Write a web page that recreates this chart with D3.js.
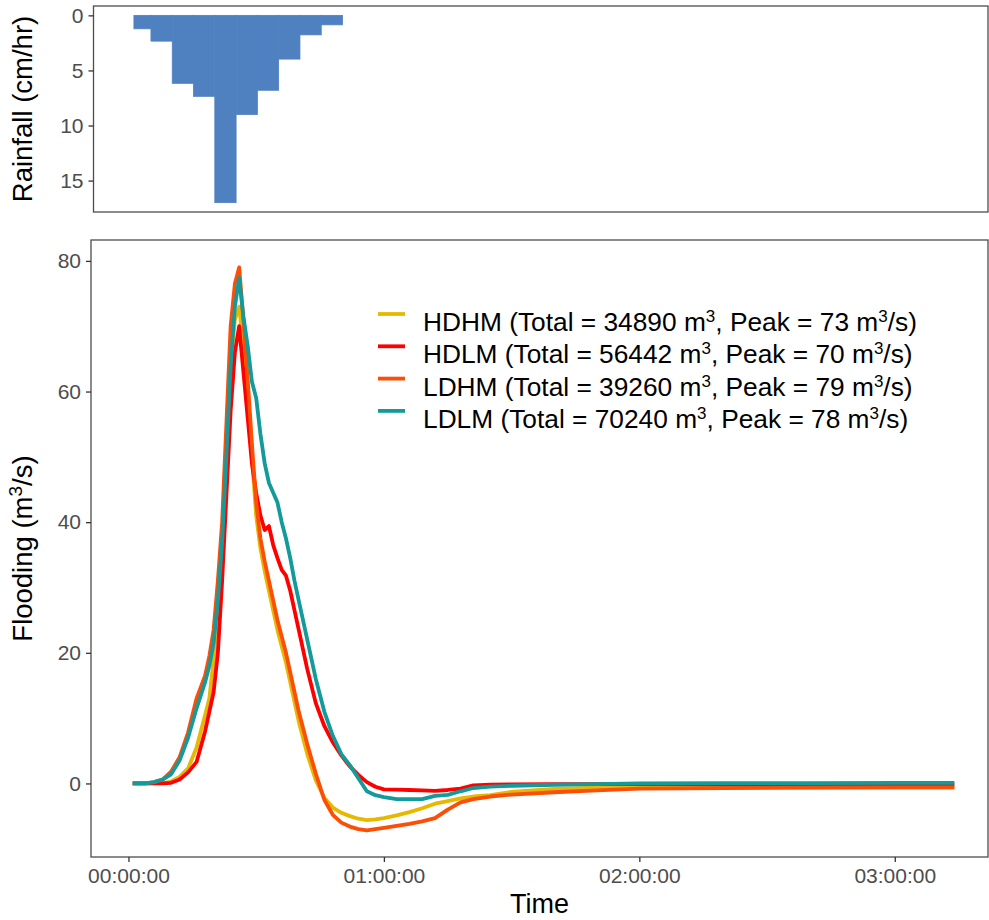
<!DOCTYPE html>
<html>
<head>
<meta charset="utf-8">
<script src="https://cdn.jsdelivr.net/npm/d3@7"></script>
<style>
  body { margin: 0; background: #fff; }
  svg { display: block; font-family: Arial, "Liberation Sans", sans-serif; }
</style>
</head>
<body>
<div id="chart"></div>
<script>
// Rainfall hyetograph (5 minute blocks, minutes from start)
const rainStart = [1, 5, 10, 15, 20, 25, 30, 35, 40, 45];
const rainEnd   = [5, 10, 15, 20, 25, 30, 35, 40, 45, 50];
const rainValue = [1.22, 2.34, 6.17, 7.35, 17.0, 9.0, 6.8, 3.97, 1.77, 0.86];

// Flooding hydrographs, minutes from start
const minutes = [1,4,6,8,10,12,14,16,18,19,20,21,22,23,24,25,26,27,28,29,30,31,32,33,34,35,36,37,38,39,40,
                 42,44,46,48,50,52,54,56,58,60,63,66,69,72,75,78,81,85,90,100,110,120,140,160,180,194];
const hdhm = [0,0,0,0.05,0.3,1.0,2.3,5.5,10.5,13,19,27,37,51,64,71,73,67,60,50,41,36,32.5,29.5,26.5,23.5,21,18.5,15.5,12.5,9.5,
              4.5,0.5,-2.2,-3.7,-4.5,-5.0,-5.4,-5.6,-5.5,-5.3,-4.9,-4.4,-3.8,-3.1,-2.7,-2.3,-2.0,-1.8,-1.3,-0.85,-0.65,-0.6,-0.6,-0.6,-0.6,-0.6];
const hdlm = [0,0,0,0,0.1,0.6,1.7,3.3,8,11,14,20,31,44,57,66,70,63,56,49,44.5,41,38.8,39.4,36.5,34.5,32.7,31.8,29.5,26.5,23.5,
              17.5,12.3,8.8,6.3,4.3,2.6,1.3,0.2,-0.5,-0.9,-0.95,-1.0,-1.05,-1.15,-1.0,-0.8,-0.3,-0.2,-0.15,-0.1,-0.1,-0.1,-0.1,-0.15,-0.15,-0.15];
const ldhm = [0,0,0.2,0.6,1.8,4.0,7.8,13,16.5,19.5,23.5,31,40,55,70,76.5,79,71,62,52,43,37.5,34,31,28,25,22.5,20,17,14,11,
              6,1.5,-2.5,-4.8,-6.0,-6.6,-7.0,-7.2,-7.0,-6.8,-6.5,-6.2,-5.8,-5.3,-4.0,-2.9,-2.4,-2.0,-1.7,-1.35,-1.05,-0.8,-0.7,-0.65,-0.6,-0.6];
const ldlm = [0,0,0.2,0.6,1.4,3.5,7,11.5,15.5,18,21.5,28,37,50,64,73,77.4,71.5,67,61.5,59,53.5,49,46,44.5,43,40,37.5,34.5,31,28,
              22,16,11,7.3,4.5,2.8,0.8,-1.2,-1.8,-2.1,-2.4,-2.4,-2.4,-1.9,-1.75,-1.2,-0.7,-0.5,-0.35,-0.2,-0.1,0,0.05,0.05,0.1,0.1];

const seriesNames = ["HDHM", "HDLM", "LDHM", "LDLM"];
const seriesTotal = [34890, 56442, 39260, 70240];
const seriesPeak  = [73, 70, 79, 78];
const seriesColor = ["#E7B800", "#FF0000", "#FC4E07", "#139A9A"];
const seriesValues = [hdhm, hdlm, ldhm, ldlm];

const rainTicks = [0, 5, 10, 15];
const flowTicks = [0, 20, 40, 60, 80];
const timeTicks = [0, 60, 120, 180];

const width = 989, height = 920;
const tickColor = "#333333", labelColor = "#4D4D4D";

const svg = d3.select("#chart").append("svg")
    .attr("width", width)
    .attr("height", height);

// Panel boxes
const panelTop = { left: 93.5, right: 988, top: 6, bottom: 212 };
const panelBot = { left: 91, right: 988, top: 240, bottom: 857 };

// Scales
const x = d3.scaleLinear().domain([-8.8, 201.9]).range([panelBot.left, panelBot.right]);
const xTop = d3.scaleLinear().domain([-8.8, 201.9]).range([panelBot.left + 1.2, panelBot.right + 1.2]);
const yRain = d3.scaleLinear().domain([-0.85, 17.85]).range([panelTop.top, panelTop.bottom]);
const yFlow = d3.scaleLinear().domain([-11.26, 83.2]).range([panelBot.bottom, panelBot.top]);

function fmtTime(m) {
  const h = Math.floor(m / 60), mm = m % 60;
  return d3.format("02")(h) + ":" + d3.format("02")(mm) + ":00";
}

// ---- Top panel: rainfall ----
const gTop = svg.append("g");
gTop.selectAll("rect.rain")
  .data(rainValue)
  .join("rect")
    .attr("class", "rain")
    .attr("x", (d, i) => xTop(rainStart[i]))
    .attr("width", (d, i) => xTop(rainEnd[i]) - xTop(rainStart[i]))
    .attr("y", yRain(0))
    .attr("height", d => yRain(d) - yRain(0))
    .attr("fill", "#4F81C1")
    .attr("stroke", "#4F81C1")
    .attr("stroke-width", 0.8);

gTop.append("rect")
    .attr("x", panelTop.left).attr("y", panelTop.top)
    .attr("width", panelTop.right - panelTop.left).attr("height", panelTop.bottom - panelTop.top)
    .attr("fill", "none").attr("stroke", "#4D4D4D").attr("stroke-width", 1.3);

const axRain = gTop.append("g")
    .attr("transform", `translate(${panelTop.left},0)`)
    .call(d3.axisLeft(yRain).tickValues(rainTicks).tickSize(5).tickPadding(5));
axRain.select(".domain").remove();

gTop.append("text")
    .attr("transform", `translate(32,${(panelTop.top + panelTop.bottom) / 2}) rotate(-90)`)
    .attr("text-anchor", "middle")
    .attr("font-size", 27.5)
    .attr("fill", "#000")
    .text("Rainfall (cm/hr)");

// ---- Bottom panel: flooding ----
const gBot = svg.append("g");

const line = d3.line()
    .x((d, i) => x(minutes[i]))
    .y(d => yFlow(d));

gBot.selectAll("path.flow")
  .data(seriesValues)
  .join("path")
    .attr("class", "flow")
    .attr("d", line)
    .attr("fill", "none")
    .attr("stroke", (d, i) => seriesColor[i])
    .attr("stroke-width", 3.8)
    .attr("stroke-linejoin", "round");

gBot.append("rect")
    .attr("x", panelBot.left).attr("y", panelBot.top)
    .attr("width", panelBot.right - panelBot.left).attr("height", panelBot.bottom - panelBot.top)
    .attr("fill", "none").attr("stroke", "#4D4D4D").attr("stroke-width", 1.3);

const axFlow = gBot.append("g")
    .attr("transform", `translate(${panelBot.left},0)`)
    .call(d3.axisLeft(yFlow).tickValues(flowTicks).tickSize(5).tickPadding(5));
axFlow.select(".domain").remove();

const axTime = gBot.append("g")
    .attr("transform", `translate(0,${panelBot.bottom})`)
    .call(d3.axisBottom(x).tickValues(timeTicks).tickFormat(fmtTime).tickSize(5).tickPadding(6));
axTime.select(".domain").remove();

svg.selectAll(".tick line").attr("stroke", tickColor).attr("stroke-width", 1.3);
svg.selectAll(".tick text")
    .attr("fill", labelColor)
    .attr("font-size", 21)
    .attr("font-family", "Arial, 'Liberation Sans', sans-serif");

// Axis titles
const yt = gBot.append("text")
    .attr("transform", `translate(32,${(panelBot.top + panelBot.bottom) / 2}) rotate(-90)`)
    .attr("text-anchor", "middle")
    .attr("font-size", 27.5)
    .attr("fill", "#000");
yt.append("tspan").text("Flooding (m");
yt.append("tspan").attr("baseline-shift", "super").attr("font-size", 19).text("3");
yt.append("tspan").text("/s)");

gBot.append("text")
    .attr("x", (panelBot.left + panelBot.right) / 2)
    .attr("y", 913)
    .attr("text-anchor", "middle")
    .attr("font-size", 27)
    .attr("fill", "#000")
    .text("Time");

// Legend
const legend = gBot.append("g");
const legendRow = d3.scaleLinear().domain([0, 1]).range([314, 346.3]);
const items = legend.selectAll("g.item")
  .data(seriesNames)
  .join("g")
    .attr("class", "item")
    .attr("transform", (d, i) => `translate(0,${legendRow(i)})`);

items.append("line")
    .attr("x1", 378).attr("x2", 405)
    .attr("y1", 0).attr("y2", 0)
    .attr("stroke", (d, i) => seriesColor[i])
    .attr("stroke-width", 3.8);

const lt = items.append("text")
    .attr("x", 423)
    .attr("y", 17)
    .attr("font-size", 26.3)
    .attr("fill", "#000");
lt.append("tspan").text((d, i) => `${d} (Total = ${seriesTotal[i]} m`);
lt.append("tspan").attr("baseline-shift", "super").attr("font-size", 17).text("3");
lt.append("tspan").text((d, i) => `, Peak = ${seriesPeak[i]} m`);
lt.append("tspan").attr("baseline-shift", "super").attr("font-size", 17).text("3");
lt.append("tspan").text("/s)");
</script>
</body>
</html>
